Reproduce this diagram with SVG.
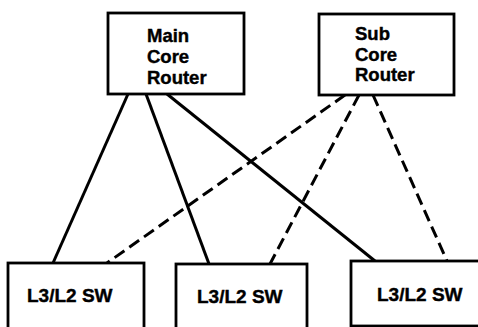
<svg xmlns="http://www.w3.org/2000/svg" width="478" height="327" viewBox="0 0 478 327">
<style>
.box{fill:#fff;stroke:#000;stroke-width:2.8}
.t{font-family:"Liberation Sans",Arial,sans-serif;font-weight:bold;font-size:18.5px;fill:#000;stroke:#000;stroke-width:0.4}
.sw{font-family:"Liberation Sans",Arial,sans-serif;font-weight:bold;font-size:19px;fill:#000;stroke:#000;stroke-width:0.4}
.solid{stroke:#000;stroke-width:3;fill:none}
.dash{stroke:#000;stroke-width:3;fill:none;stroke-dasharray:12 6}
</style>
<rect width="478" height="327" fill="#fff"/>
<g id="connectors">
<line class="solid" x1="128" y1="94" x2="53" y2="263"/>
<line class="solid" x1="146" y1="94" x2="209" y2="264"/>
<line class="solid" x1="167" y1="94" x2="375" y2="261"/>
<line class="dash" x1="345" y1="95" x2="107" y2="263"/>
<line class="dash" x1="359" y1="95" x2="270" y2="264"/>
<line class="dash" x1="373" y1="95" x2="447" y2="261"/>
</g>
<g id="main-core-router">
<rect class="box" x="108" y="13" width="136" height="81"/>
<text class="t" x="147" y="42">Main</text>
<text class="t" x="147" y="63">Core</text>
<text class="t" x="147" y="84">Router</text>
</g>
<g id="sub-core-router">
<rect class="box" x="319" y="14" width="135" height="81"/>
<text class="t" x="355" y="40">Sub</text>
<text class="t" x="355" y="61">Core</text>
<text class="t" x="355" y="81">Router</text>
</g>
<g id="sw1">
<rect class="box" x="8" y="263" width="136" height="70"/>
<text class="sw" x="27" y="302">L3/L2 SW</text>
</g>
<g id="sw2">
<rect class="box" x="176" y="264" width="131" height="70"/>
<text class="sw" x="197" y="303">L3/L2 SW</text>
</g>
<g id="sw3">
<rect class="box" x="351" y="261" width="135" height="65"/>
<text class="sw" x="377" y="301">L3/L2 SW</text>
</g>
</svg>
